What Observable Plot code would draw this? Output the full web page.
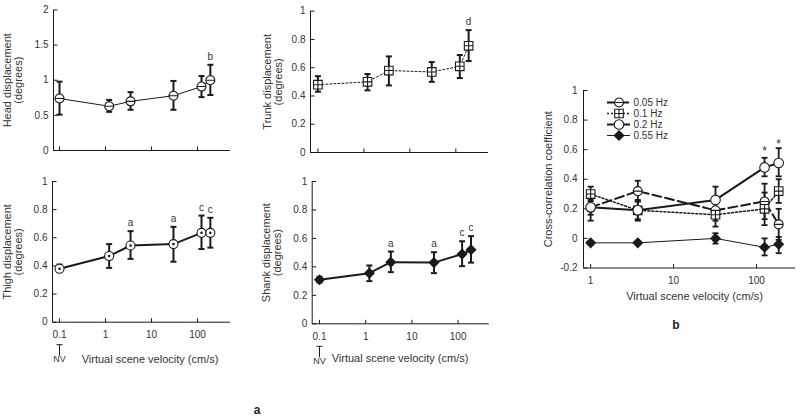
<!DOCTYPE html>
<html><head><meta charset="utf-8">
<script src="https://cdn.jsdelivr.net/npm/d3@7"></script>
<script src="https://cdn.jsdelivr.net/npm/@observablehq/plot@0.6"></script>
<style>
body{margin:0;background:#fff;font-family:"Liberation Sans",Arial,sans-serif;}
#root{position:relative;width:800px;height:420px;overflow:hidden;background:#fff;}
.p{position:absolute;}
.p svg{overflow:visible;}
.ttl{position:absolute;font-size:11px;color:#333;white-space:nowrap;transform:translate(-50%,-50%);}
.cap{position:absolute;font-weight:bold;font-size:12px;color:#222;transform:translate(-50%,-50%);}
</style></head><body><div id="root"></div>
<script>
// ---------- data (panel a) ----------
const velocityA = [0.1, 1.2, 3.5, 30, 122, 190];
const xTicksA = [0.1, 1, 10, 100];

const headMean = [0.74, 0.63, 0.70, 0.78, 0.91, 1.00];
const headLo   = [0.51, 0.55, 0.58, 0.58, 0.76, 0.79];
const headHi   = [0.98, 0.72, 0.83, 0.99, 1.06, 1.22];
const headSig  = ["", "", "", "", "", "b"];
const headTicks = [0, 0.5, 1, 1.5, 2];

const trunkMean = [0.48, 0.50, 0.58, 0.57, 0.61, 0.755];
const trunkLo   = [0.43, 0.44, 0.475, 0.50, 0.527, 0.647];
const trunkHi   = [0.54, 0.555, 0.68, 0.64, 0.69, 0.866];
const trunkSig  = ["", "", "", "", "", "d"];

const thighMean = [0.38, 0.47, 0.545, 0.555, 0.635, 0.635];
const thighLo   = [0.355, 0.386, 0.45, 0.43, 0.52, 0.53];
const thighHi   = [0.41, 0.555, 0.647, 0.678, 0.758, 0.742];
const thighSig  = ["", "", "a", "a", "c", "c"];

const shankMean = [0.31, 0.356, 0.433, 0.43, 0.49, 0.52];
const shankLo   = [0.29, 0.30, 0.363, 0.356, 0.405, 0.43];
const shankHi   = [0.33, 0.41, 0.508, 0.503, 0.58, 0.616];
const shankSig  = ["", "", "a", "a", "c", "c"];

const unitTicks = [0, 0.2, 0.4, 0.6, 0.8, 1];

// ---------- data (panel b) ----------
const velocityB = [1, 3.7, 32, 125, 185];
const seriesNames = ["0.05 Hz", "0.1 Hz", "0.2 Hz", "0.55 Hz"];
const cc005Mean = [0.21, 0.32, 0.19, 0.25, 0.095];
const cc005Lo   = [0.16, 0.25, 0.12, 0.13, -0.01];
const cc005Hi   = [0.26, 0.39, 0.26, 0.37, 0.20];
const cc01Mean  = [0.30, 0.19, 0.16, 0.20, 0.32];
const cc01Lo    = [0.25, 0.13, 0.08, 0.09, 0.24];
const cc01Hi    = [0.35, 0.25, 0.24, 0.31, 0.40];
const cc02Mean  = [0.21, 0.19, 0.26, 0.48, 0.51];
const cc02Lo    = [0.12, 0.12, 0.16, 0.42, 0.42];
const cc02Hi    = [0.29, 0.26, 0.35, 0.545, 0.61];
const cc055Mean = [-0.03, -0.03, 0.0, -0.06, -0.04];
const cc055Lo   = [-0.04, -0.04, -0.035, -0.115, -0.10];
const cc055Hi   = [-0.02, -0.02, 0.035, 0.0, 0.01];
const starVelocity = [125, 185];
const starValue = [0.59, 0.64];
const ccTicks = [-0.2, 0, 0.2, 0.4, 0.6, 0.8, 1];
const xTicksB = [1, 10, 100];

// ---------- symbols ----------
const ink = "#1a1a1a";
const rad = s => Math.sqrt(s / Math.PI);
const capSym = {draw(c, s){const r = rad(s); c.moveTo(-r,0); c.lineTo(r,0);}};
const tickUp = {draw(c, s){const r = rad(s); c.moveTo(0,0); c.lineTo(0,-r);}};
const tickRight = {draw(c, s){const r = rad(s); c.moveTo(0,0); c.lineTo(r,0);}};
const circleMinus = {draw(c, s){const r = rad(s); c.moveTo(r,0); c.arc(0,0,r,0,2*Math.PI); c.moveTo(-r,0); c.lineTo(r,0);}};
const squareCross = {draw(c, s){const r = rad(s); c.rect(-r,-r,2*r,2*r); c.moveTo(-r,0); c.lineTo(r,0); c.moveTo(0,-r); c.lineTo(0,r);}};
const diamondSym = {draw(c, s){const r = rad(s); c.moveTo(0,-r); c.lineTo(r,0); c.lineTo(0,r); c.lineTo(-r,0); c.closePath();}};
const teeSym = {draw(c, s){const r = rad(s); c.moveTo(-r*0.55,-r); c.lineTo(r*0.55,-r); c.moveTo(0,-r); c.lineTo(0,r);}};

function markerMarks(data, kind, x = "x", y = "m") {
  if (kind === "circleMinus") return [Plot.dot(data, {x, y, r: 4.5, symbol: circleMinus, fill: "#fff", stroke: ink, strokeWidth: 1.1})];
  if (kind === "squareCross") return [Plot.dot(data, {x, y, r: 4.3, symbol: squareCross, fill: "#fff", stroke: ink, strokeWidth: 1.1})];
  if (kind === "circleDot") return [
    Plot.dot(data, {x, y, r: 4.5, fill: "#fff", stroke: ink, strokeWidth: 1.1}),
    Plot.dot(data, {x, y, r: 1.3, fill: ink, stroke: "none"})];
  if (kind === "circle") return [Plot.dot(data, {x, y, r: 4.8, fill: "#fff", stroke: ink, strokeWidth: 1.1})];
  if (kind === "diamond") return [Plot.dot(data, {x, y, r: 4.5, symbol: diamondSym, fill: ink, stroke: ink})];
  return [];
}

// inward ticks and axis lines, driven by the scales
function frameAxes(xDomain, yDomain, xTicks, yTicks, showX, yPad) {
  return [
    Plot.ruleX([xDomain[0]], {stroke: ink}),
    Plot.ruleY([yDomain[0]], {stroke: ink}),
    Plot.dot(xTicks, {x: d => d, y: () => yDomain[0], symbol: tickUp, r: 4, stroke: ink, strokeWidth: 1}),
    Plot.dot(yTicks, {x: () => xDomain[0], y: d => d, symbol: tickRight, r: 4, stroke: ink, strokeWidth: 1}),
    Plot.axisY({ticks: yTicks, tickSize: 0, tickPadding: yPad, tickFormat: d => String(d), label: null}),
    Plot.axisX({ticks: xTicks, tickSize: 0, tickPadding: 9, tickFormat: showX ? (d => String(d)) : (() => ""), label: null})
  ];
}

const root = document.getElementById("root");
function place(el, left, top) {
  const d = document.createElement("div");
  d.className = "p"; d.style.left = left + "px"; d.style.top = top + "px";
  d.appendChild(el); root.appendChild(d);
}
function html(cls, text, x, y) {
  const d = document.createElement("div");
  d.className = cls; d.textContent = text; d.style.left = x + "px"; d.style.top = y + "px";
  root.appendChild(d);
}
const baseStyle = {fontFamily: "'Liberation Sans', Arial, sans-serif", fontSize: "10px", color: "#333", background: "transparent"};

function panelA(cfg) {
  const data = velocityA.map((v, i) => ({x: v, m: cfg.mean[i], lo: cfg.lo[i], hi: cfg.hi[i], t: cfg.sig[i]}));
  const marks = [
    ...frameAxes(cfg.xDomain, cfg.yDomain, xTicksA, cfg.yTicks, cfg.showX, 5),
    Plot.line(data, {x: "x", y: "m", stroke: ink, strokeWidth: cfg.lineWidth, strokeDasharray: cfg.dash}),
    Plot.ruleX(data, {x: "x", y1: "lo", y2: "hi", stroke: ink, strokeWidth: 2}),
    Plot.dot(data, {x: "x", y: "lo", symbol: capSym, r: 3, stroke: ink, strokeWidth: 2}),
    Plot.dot(data, {x: "x", y: "hi", symbol: capSym, r: 3, stroke: ink, strokeWidth: 2}),
    ...markerMarks(data, cfg.marker),
    Plot.text(data, {x: "x", y: "hi", text: "t", dy: -8, fontSize: 10, fill: "#333"}),
    Plot.text([cfg.ylabel], {text: d => d, frameAnchor: "left", textAnchor: "middle", rotate: -90, dx: cfg.ylabelDx, fontSize: 11, lineAnchor: "middle", fill: "#333"})
  ];
  if (cfg.showX) {
    marks.push(Plot.dot([0.1], {x: d => d, frameAnchor: "bottom", dy: 28, r: 5.5, symbol: teeSym, stroke: ink, strokeWidth: 1}));
    marks.push(Plot.text(["NV"], {x: () => 0.1, text: d => d, frameAnchor: "bottom", textAnchor: "middle", dy: 40, fontSize: 9, fill: "#333"}));
  }
  const m = cfg.margins;
  return Plot.plot({
    width: cfg.width, height: cfg.height,
    marginTop: m[0], marginRight: m[1], marginBottom: m[2], marginLeft: m[3],
    style: baseStyle,
    x: {type: "log", domain: cfg.xDomain, axis: null},
    y: {domain: cfg.yDomain, axis: null},
    marks
  });
}

place(panelA({width: 240, height: 165, margins: [9.5, 10, 15, 53], xDomain: [0.074, 521], yDomain: [0, 2], yTicks: headTicks,
  mean: headMean, lo: headLo, hi: headHi, sig: headSig, marker: "circleMinus", lineWidth: 1, dash: null,
  ylabel: "Head displacement\n(degrees)", ylabelDx: -41, showX: false}), 0, 0);
place(panelA({width: 240, height: 165, margins: [10.7, 12, 13, 50], xDomain: [0.069, 514], yDomain: [0, 1], yTicks: unitTicks,
  mean: trunkMean, lo: trunkLo, hi: trunkHi, sig: trunkSig, marker: "squareCross", lineWidth: 1, dash: "2,2",
  ylabel: "Trunk displacement\n(degrees)", ylabelDx: -38, showX: false}), 260, 0);
place(panelA({width: 240, height: 200, margins: [11, 10, 48.3, 52], xDomain: [0.0704, 521], yDomain: [0, 1], yTicks: unitTicks,
  mean: thighMean, lo: thighLo, hi: thighHi, sig: thighSig, marker: "circleDot", lineWidth: 2, dash: null,
  ylabel: "Thigh displacement\n(degrees)", ylabelDx: -40, showX: true}), 0, 170);
place(panelA({width: 240, height: 200, margins: [11, 11.3, 46.7, 51.7], xDomain: [0.0695, 471], yDomain: [0, 1], yTicks: unitTicks,
  mean: shankMean, lo: shankLo, hi: shankHi, sig: shankSig, marker: "diamond", lineWidth: 2, dash: null,
  ylabel: "Shank displacement\n(degrees)", ylabelDx: -40, showX: true}), 260, 170);

// ---------- panel b ----------
const seriesB = [
  {name: seriesNames[0], mean: cc005Mean, lo: cc005Lo, hi: cc005Hi},
  {name: seriesNames[1], mean: cc01Mean, lo: cc01Lo, hi: cc01Hi},
  {name: seriesNames[2], mean: cc02Mean, lo: cc02Lo, hi: cc02Hi},
  {name: seriesNames[3], mean: cc055Mean, lo: cc055Lo, hi: cc055Hi}
];
const styleB = {
  "0.05 Hz": {dash: "9,4", width: 2, marker: "circleMinus"},
  "0.1 Hz": {dash: "2,2", width: 1.5, marker: "squareCross"},
  "0.2 Hz": {dash: null, width: 2, marker: "circle"},
  "0.55 Hz": {dash: null, width: 1, marker: "diamond"}
};
const bMarks = [...frameAxes([0.82, 295], [-0.2, 1], xTicksB, ccTicks, true, 6)];
for (const s of seriesB) {
  const st = styleB[s.name];
  const data = velocityB.map((v, i) => ({x: v, m: s.mean[i], lo: s.lo[i], hi: s.hi[i]}));
  bMarks.push(Plot.line(data, {x: "x", y: "m", stroke: ink, strokeWidth: st.width, strokeDasharray: st.dash}));
  bMarks.push(Plot.ruleX(data, {x: "x", y1: "lo", y2: "hi", stroke: ink, strokeWidth: 1.8}));
  bMarks.push(Plot.dot(data, {x: "x", y: "lo", symbol: capSym, r: 3, stroke: ink, strokeWidth: 1.8}));
  bMarks.push(Plot.dot(data, {x: "x", y: "hi", symbol: capSym, r: 3, stroke: ink, strokeWidth: 1.8}));
}
for (const s of seriesB) {
  const data = velocityB.map((v, i) => ({x: v, m: s.mean[i]}));
  bMarks.push(...markerMarks(data, styleB[s.name].marker));
}
bMarks.push(Plot.text(starVelocity, {x: d => d, y: (d, i) => starValue[i], text: () => "*", fontSize: 12, fill: "#333"}));
bMarks.push(Plot.text(["Cross-correlation coefficient"], {text: d => d, frameAnchor: "left", textAnchor: "middle", rotate: -90, dx: -35, fontSize: 11, fill: "#333"}));
place(Plot.plot({
  width: 280, height: 230, marginTop: 10, marginRight: 5, marginBottom: 42.5, marginLeft: 63,
  style: baseStyle,
  x: {type: "log", domain: [0.82, 295], axis: null},
  y: {domain: [-0.2, 1], axis: null},
  marks: bMarks
}), 520, 80);

// legend for panel b
const legMarks = [];
for (const name of seriesNames) {
  const st = styleB[name];
  legMarks.push(Plot.ruleY([name], {y: d => d, x1: 0, x2: 1, stroke: ink, strokeWidth: st.width, strokeDasharray: st.dash}));
  legMarks.push(...markerMarks([{x: 0.5, m: name}], st.marker));
}
legMarks.push(Plot.text(seriesNames, {x: () => 1, y: d => d, text: d => d, dx: 3, textAnchor: "start", fontSize: 10, fill: "#333"}));
place(Plot.plot({
  width: 80, height: 50, marginTop: 7, marginRight: 50, marginBottom: 8, marginLeft: 7,
  style: baseStyle,
  x: {domain: [0, 1], axis: null},
  y: {type: "point", domain: seriesNames, padding: 0, axis: null},
  marks: legMarks
}), 600, 94);

// titles and captions
html("ttl", "Virtual scene velocity (cm/s)", 150, 359);
html("ttl", "Virtual scene velocity (cm/s)", 400, 358);
html("ttl", "Virtual scene velocity (cm/s)", 694.5, 296);
html("cap", "a", 257, 410);
html("cap", "b", 676, 325);
</script></body></html>
